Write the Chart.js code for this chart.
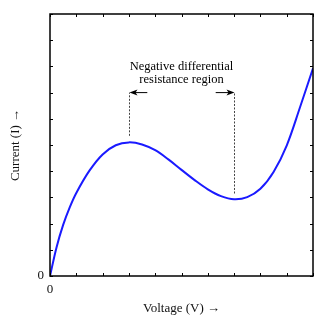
<!DOCTYPE html>
<html>
<head>
<meta charset="utf-8">
<script src="https://cdn.jsdelivr.net/npm/chart.js@4.4.0/dist/chart.umd.min.js"></script>
<style>
  html, body { margin: 0; padding: 0; background: #fff; }
  #wrap { width: 325px; height: 325px; }
</style>
</head>
<body>
<div id="wrap"><canvas id="ndrChart" width="325" height="325"></canvas></div>
<script>
// Values (arbitrary units, axes 0..10)
const voltage = [0, 0.25, 0.5, 0.75, 1, 1.5, 2, 2.5, 3, 3.5, 4, 4.5, 5, 5.5, 6, 6.5, 7, 7.5, 8, 8.5, 9, 9.5, 10];
const current = [0, 1.1, 1.95, 2.62, 3.17, 4.02, 4.64, 4.99, 5.1, 5.02, 4.8, 4.45, 4.05, 3.66, 3.31, 3.05, 2.93, 3.01, 3.33, 3.97, 4.98, 6.42, 7.93];
const tickValues = [0, 1, 2, 3, 4, 5, 6, 7, 8, 9, 10];
const tickLabels = ['0'];

const peakV = 3, valleyV = 7;
const SERIF = '"Liberation Serif", "DejaVu Serif", serif';

// frame with inward ticks on all four sides + the NDR annotation
const annotate = {
  id: 'annotate',
  afterDatasetsDraw(chart) {
    const { ctx, chartArea: a, scales: { x, y } } = chart;
    ctx.save();
    ctx.strokeStyle = '#000';
    ctx.lineWidth = 1.5;
    ctx.strokeRect(a.left, a.top, a.right - a.left, a.bottom - a.top);
    ctx.lineWidth = 1;
    const t = 3;
    tickValues.forEach(v => {
      const px = Math.round(x.getPixelForValue(v)) + 0.5;
      const py = Math.round(y.getPixelForValue(v)) + 0.5;
      ctx.beginPath();
      ctx.moveTo(px, a.bottom); ctx.lineTo(px, a.bottom - t);
      ctx.moveTo(px, a.top); ctx.lineTo(px, a.top + t);
      ctx.moveTo(a.left, py); ctx.lineTo(a.left + t, py);
      ctx.moveTo(a.right, py); ctx.lineTo(a.right - t, py);
      ctx.stroke();
    });

    // dashed guides from peak / valley up to arrow level
    const arrowY = y.getPixelForValue(7.0);
    const xl = Math.round(x.getPixelForValue(peakV)) + 0.5;
    const xr = Math.round(x.getPixelForValue(valleyV)) + 0.5;
    ctx.strokeStyle = '#444';
    ctx.setLineDash([2, 1.5]);
    ctx.beginPath();
    ctx.moveTo(xl, y.getPixelForValue(5.35)); ctx.lineTo(xl, arrowY);
    ctx.moveTo(xr, y.getPixelForValue(3.15)); ctx.lineTo(xr, arrowY);
    ctx.stroke();
    ctx.setLineDash([]);

    // arrows
    const arrow = (tipX, tailX) => {
      const dir = Math.sign(tipX - tailX);
      ctx.strokeStyle = '#000';
      ctx.fillStyle = '#000';
      ctx.lineWidth = 1;
      ctx.beginPath();
      ctx.moveTo(tailX, arrowY); ctx.lineTo(tipX - dir * 4, arrowY);
      ctx.stroke();
      ctx.beginPath();
      ctx.moveTo(tipX, arrowY);
      ctx.lineTo(tipX - dir * 8, arrowY - 3);
      ctx.lineTo(tipX - dir * 6, arrowY);
      ctx.lineTo(tipX - dir * 8, arrowY + 3);
      ctx.closePath();
      ctx.fill();
    };
    arrow(xl, x.getPixelForValue(3.7));
    arrow(xr, x.getPixelForValue(6.3));

    ctx.fillStyle = '#000';
    ctx.font = '12.5px ' + SERIF;
    ctx.textAlign = 'center';
    ctx.textBaseline = 'middle';
    const cx = x.getPixelForValue(5);
    ctx.fillText('Negative differential', cx, y.getPixelForValue(7.98));
    ctx.fillText('resistance region', cx, y.getPixelForValue(7.5));
    ctx.restore();
  }
};

new Chart(document.getElementById('ndrChart'), {
  type: 'line',
  data: {
    datasets: [{
      data: voltage.map((v, i) => ({ x: v, y: current[i] })),
      borderColor: '#1a1aff',
      borderWidth: 2,
      pointRadius: 0,
      tension: 0.35,
      fill: false
    }]
  },
  options: {
    responsive: false,
    animation: false,
    layout: { padding: { top: 14, right: 12, left: 0, bottom: 0 } },
    plugins: { legend: { display: false }, tooltip: { enabled: false } },
    scales: {
      x: {
        type: 'linear', min: 0, max: 10,
        afterFit: s => { s.height = 49; },
        afterBuildTicks: s => { s.ticks = tickValues.map(v => ({ value: v })); },
        grid: { display: false, drawTicks: false },
        border: { display: false },
        ticks: {
          padding: 6, color: '#111', maxRotation: 0, autoSkip: false,
          font: { family: SERIF, size: 13 },
          callback: v => tickLabels[v] ?? ''
        },
        title: {
          display: true, text: 'Voltage (V) \u2192', color: '#111',
          font: { family: SERIF, size: 13 }, padding: { top: 0, bottom: 9 }
        }
      },
      y: {
        type: 'linear', min: 0, max: 10,
        afterFit: s => { s.width = 50; },
        afterBuildTicks: s => { s.ticks = tickValues.map(v => ({ value: v })); },
        grid: { display: false, drawTicks: false },
        border: { display: false },
        ticks: {
          padding: 6, color: '#111', autoSkip: false,
          font: { family: SERIF, size: 13 },
          callback: v => tickLabels[v] ?? ''
        },
        title: {
          display: true, text: 'Current (I) \u2192', color: '#111',
          font: { family: SERIF, size: 13 }, padding: { top: 8, bottom: 0 }
        }
      }
    }
  },
  plugins: [annotate]
});
</script>
</body>
</html>
